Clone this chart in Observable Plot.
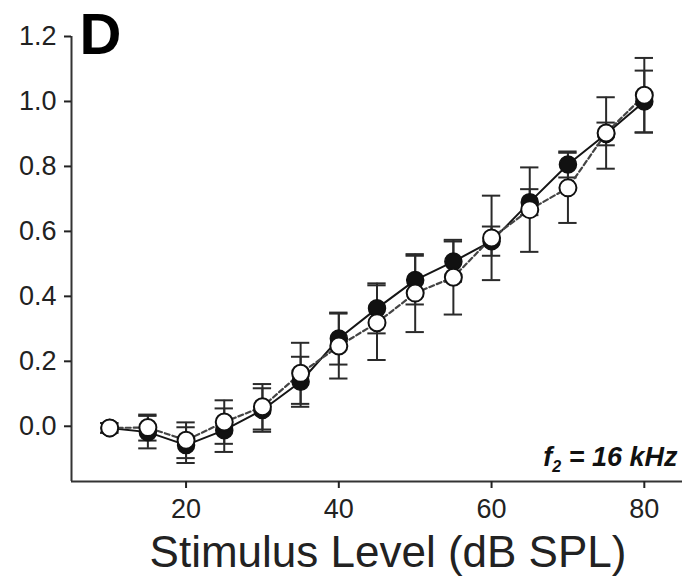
<!DOCTYPE html>
<html>
<head>
<meta charset="utf-8">
<script src="https://cdn.jsdelivr.net/npm/d3@7"></script>
<script src="https://cdn.jsdelivr.net/npm/@observablehq/plot@0.6"></script>
<style>
  html, body { margin: 0; padding: 0; background: #fff; }
</style>
</head>
<body>
<div id="chart"></div>
<script>
const levels = [10, 15, 20, 25, 30, 35, 40, 45, 50, 55, 60, 65, 70, 75, 80];
const filledMean = [-0.005, -0.018, -0.058, -0.012, 0.05, 0.137, 0.27, 0.363, 0.45, 0.507, 0.57, 0.69, 0.806, 0.90, 1.0];
const filledErr  = [0.015, 0.05, 0.055, 0.067, 0.067, 0.077, 0.08, 0.077, 0.075, 0.062, 0.045, 0.04, 0.04, 0.035, 0.095];
const openMean   = [-0.005, -0.004, -0.043, 0.013, 0.06, 0.163, 0.247, 0.319, 0.41, 0.459, 0.58, 0.667, 0.734, 0.903, 1.019];
const openErr    = [0.015, 0.04, 0.055, 0.067, 0.07, 0.094, 0.1, 0.115, 0.12, 0.115, 0.13, 0.13, 0.108, 0.11, 0.115];
const xTicks = [20, 40, 60, 80];
const yTicks = [0, 0.2, 0.4, 0.6, 0.8, 1.0, 1.2];
const xDomain = [5, 85];
const yDomain = [-0.17, 1.2];
const panelLabel = "D";
const condLabel = "f2 = 16 kHz";
const xTitle = "Stimulus Level (dB SPL)";

const filled = levels.map((x, i) => ({x, y: filledMean[i], e: filledErr[i]}));
const open = levels.map((x, i) => ({x, y: openMean[i], e: openErr[i]}));

const cap = 1.2; // half cap width in x units
const ink = "#151515";
const errInk = "#2a2a2a";

function errorMarks(data) {
  return [
    Plot.ruleX(data, {x: "x", y1: d => d.y - d.e, y2: d => d.y + d.e, stroke: errInk, strokeWidth: 2}),
    Plot.ruleY(data, {y: d => d.y + d.e, x1: d => d.x - cap, x2: d => d.x + cap, stroke: errInk, strokeWidth: 2}),
    Plot.ruleY(data, {y: d => d.y - d.e, x1: d => d.x - cap, x2: d => d.x + cap, stroke: errInk, strokeWidth: 2})
  ];
}

const font = "'Liberation Sans', Arial, Helvetica, sans-serif";

const chart = Plot.plot({
  width: 682,
  height: 577,
  marginLeft: 71,
  marginRight: 0,
  marginTop: 36,
  marginBottom: 96,
  x: {domain: xDomain},
  y: {domain: yDomain},
  style: {fontFamily: font, fontSize: "27px", color: "#222", background: "#fff"},
  marks: [
    Plot.ruleX([xDomain[0]], {y1: yDomain[0], y2: yDomain[1], stroke: "#333", strokeWidth: 2}),
    Plot.ruleY([yDomain[0]], {x1: xDomain[0], x2: xDomain[1], stroke: "#333", strokeWidth: 2}),
    Plot.axisY({ticks: yTicks, tickFormat: d3.format(".1f"), tickSize: 7, tickPadding: 8, label: null, strokeWidth: 2}),
    Plot.axisX({ticks: xTicks, tickSize: 7, tickPadding: 10, label: null, strokeWidth: 2}),
    ...errorMarks(filled),
    ...errorMarks(open),
    Plot.line(filled, {x: "x", y: "y", stroke: ink, strokeWidth: 2}),
    Plot.line(open, {x: "x", y: "y", stroke: "#444", strokeWidth: 2.2, strokeDasharray: "5,3"}),
    Plot.dot(filled, {x: "x", y: "y", r: 8.5, fill: "#111", stroke: "#111", strokeWidth: 1.5}),
    Plot.dot(open, {x: "x", y: "y", r: 8.5, fill: "#fff", stroke: "#111", strokeWidth: 2}),
    Plot.text([panelLabel], {frameAnchor: "top-left", text: d => d, textAnchor: "start", lineAnchor: "top", dx: 8, dy: -24, fontSize: 58, fontWeight: "bold", fill: "#000"}),
    Plot.text([condLabel], {frameAnchor: "bottom-right", text: d => d, textAnchor: "end", lineAnchor: "middle", dx: -5, dy: -24, fontSize: 27, fontWeight: "bold", fontStyle: "italic", fill: "#111"}),
    Plot.text([xTitle], {frameAnchor: "bottom", text: d => d, textAnchor: "middle", lineAnchor: "middle", dx: 11, dy: 71, fontSize: 44, fill: "#222"})
  ]
});
document.getElementById("chart").appendChild(chart);

// render the "2" of f2 as a subscript
d3.select(chart).selectAll("text").filter(function() { return this.textContent === condLabel; }).each(function() {
  const t = d3.select(this);
  t.text(null);
  t.append("tspan").text(condLabel.slice(0, 1));
  t.append("tspan").attr("font-size", 16).attr("dy", 6).text(condLabel.slice(1, 2));
  t.append("tspan").attr("dy", -6).text(condLabel.slice(2));
});
</script>
</body>
</html>
